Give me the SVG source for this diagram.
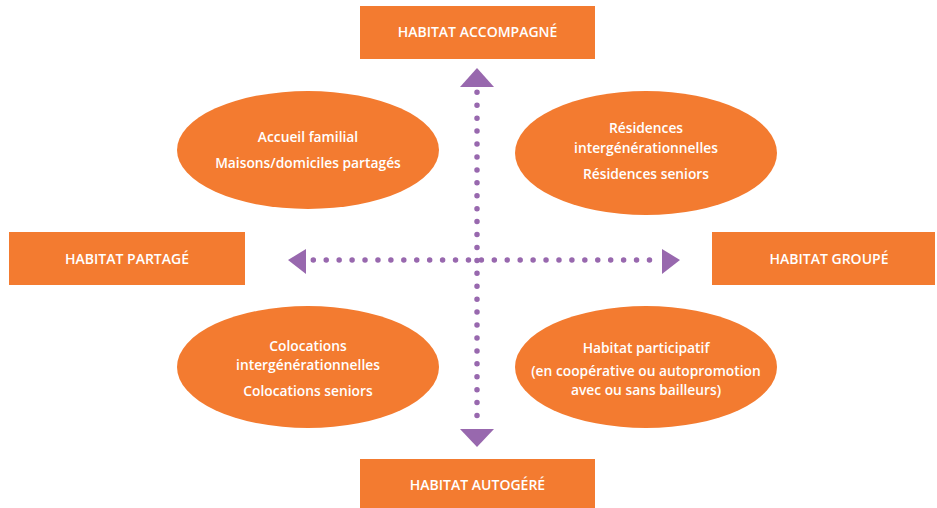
<svg xmlns="http://www.w3.org/2000/svg" width="937" height="508" viewBox="0 0 937 508">
<style>
.box{fill:#F37B30}
.ell{fill:#F37B30}
.t{font-family:"Open Sans","Liberation Sans",sans-serif;font-weight:600;fill:#ffffff;text-anchor:middle}
.hb{font-size:14px}
.el{font-size:13.8px}
.dots{stroke:#9868AE;stroke-width:5.5;stroke-linecap:round;stroke-dasharray:0 12.93;fill:none}
.ah{fill:#9868AE}
</style>
<rect width="937" height="508" fill="#ffffff"/>
<g id="connectors">
<line class="dots" x1="477" y1="92.3" x2="477" y2="416"/>
<line class="dots" x1="313.3" y1="260" x2="649.5" y2="260"/>
<polygon class="ah" points="477,68 460,87 494,87"/>
<polygon class="ah" points="477,447 460,429 494,429"/>
<polygon class="ah" points="288,260 306,249 306,274"/>
<polygon class="ah" points="680,260 662,249 662,274"/>
</g>
<g id="habitat-accompagne">
<rect class="box" x="360" y="6" width="235" height="53"/>
<text class="t hb" x="477.5" y="37">HABITAT ACCOMPAGNÉ</text>
</g>
<g id="habitat-partage">
<rect class="box" x="9" y="232" width="236" height="53"/>
<text class="t hb" x="127" y="264">HABITAT PARTAGÉ</text>
</g>
<g id="habitat-groupe">
<rect class="box" x="712" y="232" width="223" height="53"/>
<text class="t hb" x="829" y="264">HABITAT GROUPÉ</text>
</g>
<g id="habitat-autogere">
<rect class="box" x="360" y="459" width="235" height="49"/>
<text class="t hb" x="477.5" y="490">HABITAT AUTOGÉRÉ</text>
</g>
<g id="accueil-familial">
<ellipse class="ell" cx="308" cy="150" rx="131" ry="59"/>
<text class="t el" x="308" y="142">Accueil familial</text>
<text class="t el" x="308" y="168">Maisons/domiciles partagés</text>
</g>
<g id="residences">
<ellipse class="ell" cx="646" cy="153" rx="131" ry="62"/>
<text class="t el" x="646" y="133">Résidences</text>
<text class="t el" x="646" y="153">intergénérationnelles</text>
<text class="t el" x="646" y="179">Résidences seniors</text>
</g>
<g id="colocations">
<ellipse class="ell" cx="308" cy="367" rx="131" ry="61"/>
<text class="t el" x="308" y="351">Colocations</text>
<text class="t el" x="308" y="370">intergénérationnelles</text>
<text class="t el" x="308" y="396">Colocations seniors</text>
</g>
<g id="habitat-participatif">
<ellipse class="ell" cx="646" cy="367" rx="131" ry="61"/>
<text class="t el" x="646" y="353">Habitat participatif</text>
<text class="t el" x="646" y="376">(en coopérative ou autopromotion</text>
<text class="t el" x="646" y="395">avec ou sans bailleurs)</text>
</g>
</svg>
